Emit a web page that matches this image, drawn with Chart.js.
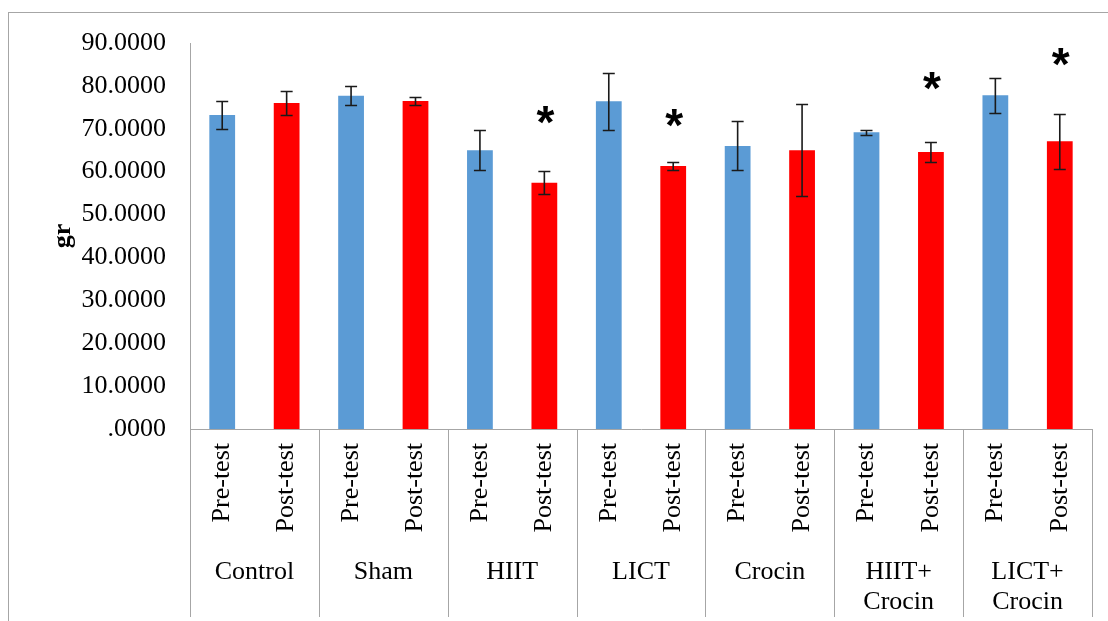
<!DOCTYPE html>
<html>
<head>
<meta charset="utf-8">
<script src="https://cdn.jsdelivr.net/npm/chart.js@4/dist/chart.umd.min.js"></script>
<style>
  html, body { margin: 0; padding: 0; background: #fff; }
  #wrap { width: 1108px; height: 621px; position: relative; }
</style>
</head>
<body>
<div id="wrap"><canvas id="weightChart"></canvas></div>
<script>
// groups and the two measurements in each
const groups = ['Control', 'Sham', 'HIIT', 'LICT', 'Crocin', ['HIIT+', 'Crocin'], ['LICT+', 'Crocin']];
const phases = ['Pre-test', 'Post-test'];

// body weight (gr), pre/post for each group in order
const means = [73.2, 76.0, 77.7, 76.5, 65.0, 57.4, 76.4, 61.3, 66.0, 65.0, 69.2, 64.6, 77.8, 67.1];
const sd    = [3.2, 2.9, 2.2, 0.9, 4.6, 2.65, 6.6, 1.0, 5.7, 10.7, 0.6, 2.35, 4.1, 6.4];

// where the significance stars sit (null = no star)
const stars = [null, null, null, null, null, 73.0, null, 72.3, null, null, null, 80.9, null, 86.5];

const phaseColors = ['#5B9BD5', '#FF0000'];
const serif = '"Liberation Serif", "Times New Roman", serif';

const labels = groups.flatMap(() => phases);
const colors = labels.map((l, i) => phaseColors[i % 2]);

const extras = {
  id: 'extras',
  beforeDraw(chart) {
    const c = chart.ctx;
    c.save();
    c.strokeStyle = '#a6a6a6';
    c.lineWidth = 1;
    c.strokeRect(8.5, 12.5, 1300, 800);
    c.restore();
  },
  afterDatasetsDraw(chart) {
    const c = chart.ctx;
    const y = chart.scales.y, x = chart.scales.x;
    const area = chart.chartArea;
    const bars = chart.getDatasetMeta(0).data;

    c.save();
    // error bars
    c.strokeStyle = '#1a1a1a';
    c.lineWidth = 1.6;
    bars.forEach((b, i) => {
      const top = Math.round(y.getPixelForValue(means[i] + sd[i])) + 0.5;
      const bot = Math.round(y.getPixelForValue(means[i] - sd[i])) + 0.5;
      c.beginPath();
      c.moveTo(b.x, top); c.lineTo(b.x, bot);
      c.moveTo(b.x - 6, top); c.lineTo(b.x + 6, top);
      c.moveTo(b.x - 6, bot); c.lineTo(b.x + 6, bot);
      c.stroke();
    });

    // stars
    c.fillStyle = '#000';
    c.font = 'bold 46px "Liberation Sans", Arial, sans-serif';
    c.textAlign = 'center';
    c.textBaseline = 'alphabetic';
    bars.forEach((b, i) => {
      if (stars[i] == null) return;
      const py = y.getPixelForValue(stars[i]);
      c.fillText('*', b.x + 1, py + 46 * 0.47);
    });

    // group dividers below the axis
    c.strokeStyle = '#a6a6a6';
    c.lineWidth = 1;
    for (let g = 0; g <= groups.length; g++) {
      const gx = Math.round(x.getPixelForValue(g * 2 - 0.5)) + 0.5;
      c.beginPath();
      c.moveTo(gx, area.bottom);
      c.lineTo(gx, area.bottom + 188);
      c.stroke();
    }

    // group names
    c.fillStyle = '#000';
    c.font = '26px ' + serif;
    c.textAlign = 'center';
    groups.forEach((name, g) => {
      const cx = x.getPixelForValue(g * 2 + 0.5);
      [].concat(name).forEach((t, k) => c.fillText(t, cx, area.bottom + 150 + k * 30));
    });
    c.restore();
  }
};

new Chart(document.getElementById('weightChart').getContext('2d'), {
  type: 'bar',
  data: {
    labels: labels,
    datasets: [{
      data: means,
      backgroundColor: colors,
      borderWidth: 0,
      barPercentage: 0.4,
      categoryPercentage: 1.0
    }]
  },
  options: {
    responsive: true,
    maintainAspectRatio: false,
    animation: false,
    layout: { padding: { top: 43, right: 16, left: 0, bottom: 0 } },
    plugins: {
      legend: { display: false },
      tooltip: { enabled: false }
    },
    scales: {
      x: {
        grid: { display: false, drawTicks: false },
        border: { display: true, color: '#a6a6a6', width: 1 },
        ticks: {
          color: '#000',
          font: { family: serif, size: 26 },
          minRotation: 90,
          maxRotation: 90,
          autoSkip: false,
          padding: 14
        },
        afterFit(scale) { scale.height = 192; }
      },
      y: {
        min: 0,
        max: 90,
        grid: { display: false, drawTicks: false },
        border: { display: true, color: '#a6a6a6', width: 1 },
        ticks: {
          stepSize: 10,
          color: '#000',
          font: { family: serif, size: 26 },
          padding: 24,
          callback: v => v === 0 ? '.0000' : v.toFixed(4)
        },
        title: {
          display: true,
          text: 'gr',
          color: '#000',
          font: { family: serif, size: 26, weight: 'bold' },
          padding: { top: 48, bottom: 0 }
        },
        afterFit(scale) { scale.width = 190; }
      }
    }
  },
  plugins: [extras]
});
</script>
</body>
</html>
